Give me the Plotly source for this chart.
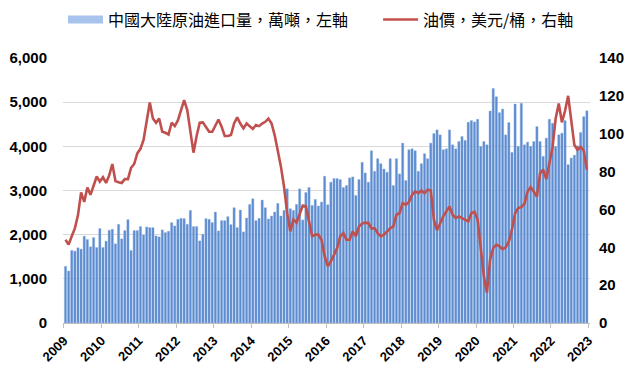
import plotly.graph_objects as go

years = [str(y) for y in range(2009, 2024)]

# Monthly China crude imports (10k tonnes), Jan 2009 - Dec 2022
imports = [
    1283, 1178, 1643, 1628, 1703, 1673, 1965, 1890, 1725, 1935, 1710, 2138,
    1710, 1853, 2100, 2123, 1793, 2235, 1905, 2093, 2340, 1643, 2093, 2093,
    2183, 1995, 2175, 2160, 2160, 1973, 1950, 2108, 2048, 2078, 2273, 2198,
    2348, 2370, 2363, 2235, 2550, 2183, 2183, 1860, 2010, 2363, 2348, 2273,
    2513, 2085, 2318, 2318, 2408, 2228, 2610, 2160, 2558, 2063, 2378, 2685,
    2813, 2318, 2370, 2783, 2610, 2355, 2423, 2513, 2708, 2423, 2550, 3038,
    2588, 2550, 2685, 3038, 2333, 2955, 3068, 2663, 2798, 2648, 2738, 3323,
    2678, 3188, 3270, 3270, 3248, 3068, 3113, 3285, 3308, 2888, 3248, 3638,
    3398, 3188, 3900, 3435, 3720, 3608, 3488, 3413, 3720, 3113, 3720, 3375,
    4073, 3225, 3923, 3945, 3900, 3435, 3608, 3833, 3720, 4073, 4290, 4373,
    4260, 3923, 3945, 4373, 4035, 3945, 4110, 4223, 4133, 4545, 4583, 4553,
    4613, 3998, 4110, 4035, 4800, 5310, 5123, 4763, 4845, 4260, 4538, 3863,
    4958, 3998, 4973, 4035, 4095, 3998, 4110, 4448, 4110, 3773, 4185, 4613,
    4523, 3998, 4260, 4298, 4583, 3585, 3735, 3800, 4010, 4313, 4673, 4805,
]

# Monthly oil price (USD/barrel)
price = [
    44, 41.4, 45.8, 50, 57, 69, 64, 71.6, 67.7, 73, 77.4, 74.7,
    77, 74, 78, 84, 75, 74.4, 74, 76, 76, 82, 84, 89.6,
    92, 96.7, 106, 116.5, 108, 105.8, 108, 101, 100.5, 99.6, 105.8, 104,
    107, 112.8, 117.7, 112.5, 101, 90, 98.8, 105.8, 106, 103.7, 101, 101,
    104.6, 107.5, 103.7, 98.8, 98.8, 99.3, 105.4, 108.6, 105.4, 102.8, 105.4, 103.7,
    102.5, 104.6, 104, 105.4, 106.3, 108, 105.4, 99.3, 91.4, 82.6, 72, 58,
    48.4, 54.6, 53, 57.2, 62, 61.6, 52.8, 45.8, 46.7, 46.7, 44, 35.3,
    30, 32.6, 36, 39.6, 45.8, 47.5, 44, 44, 48.4, 45.8, 51, 52.5,
    53, 52.8, 50, 50, 47.5, 45.8, 46.7, 48.4, 50, 51, 57.2, 58,
    63.3, 62.5, 64, 67.7, 69.5, 68.6, 70, 68.6, 70.4, 70, 54.6, 49,
    52.8, 56.3, 59, 61.6, 57.2, 55.4, 56.3, 55.4, 54.2, 53.7, 58, 58.8,
    54.6, 40.5, 24.7, 16, 33.5, 39.6, 41.4, 40.5, 39, 40, 43, 49.3,
    58, 60.7, 61.2, 63, 69.5, 71.8, 69.5, 66.8, 79, 81, 76, 84,
    93, 108, 116, 106, 112, 120, 107, 94, 91.5, 93, 91, 81,
]

bar_name = "中國大陸原油進口量，萬噸，左軸"
line_name = "油價，美元/桶，右軸"

months = list(range(len(imports)))
year_ticks = [12 * k - 0.5 for k in range(len(years))]

fig = go.Figure()
fig.add_trace(go.Bar(
    x=months, y=imports, name=bar_name, showlegend=False,
    marker=dict(color="#5b8bd0", line=dict(color="#8fb0e0", width=0.4)),
    width=0.72, yaxis="y",
))
# legend entry for bars, drawn as a wide light-blue swatch
fig.add_trace(go.Scatter(
    x=[None], y=[None], name=bar_name + "\u00a0" * 7, mode="lines",
    line=dict(color="#a9c4ec", width=8), yaxis="y", hoverinfo="skip",
))
fig.add_trace(go.Scatter(
    x=months, y=price, name=line_name, mode="lines",
    line=dict(color="#c0504d", width=2.6), yaxis="y2",
))

bold = dict(family="Liberation Sans, Arial", size=15, color="#000000", weight="bold")
fig.update_layout(
    width=640, height=382,
    margin=dict(l=55, r=58, t=50, b=67, autoexpand=False),
    paper_bgcolor="white", plot_bgcolor="white",
    showlegend=True,
    legend=dict(
        orientation="h", xref="paper", yref="paper",
        x=0.0, xanchor="left", y=1.145, yanchor="middle",
        font=dict(family="Noto Sans CJK TC", size=16, color="#000000"),
        itemwidth=35, tracegroupgap=0, bgcolor="rgba(0,0,0,0)",
    ),
    xaxis=dict(
        range=[-0.8, 168.0],
        tickmode="array", tickvals=year_ticks, ticktext=years,
        tickangle=-45, tickfont=dict(family="Liberation Sans, Arial", size=13, color="#000000", weight="bold"),
        ticks="outside", ticklen=4, tickcolor="#bfbfbf",
        showgrid=False, showline=True, linecolor="#bfbfbf", zeroline=False,
    ),
    yaxis=dict(
        range=[0, 6000], dtick=1000, tickformat=",",
        tickfont=bold, ticklabelstandoff=15,
        showgrid=True, gridcolor="#d9d9d9", gridwidth=1,
        zeroline=False, showline=False, ticks="",
    ),
    yaxis2=dict(
        range=[0, 140], dtick=20, overlaying="y", side="right",
        tickfont=bold, ticklabelstandoff=8,
        showgrid=False, zeroline=False, showline=False, ticks="",
    ),
)

fig.write_html("out.html")
